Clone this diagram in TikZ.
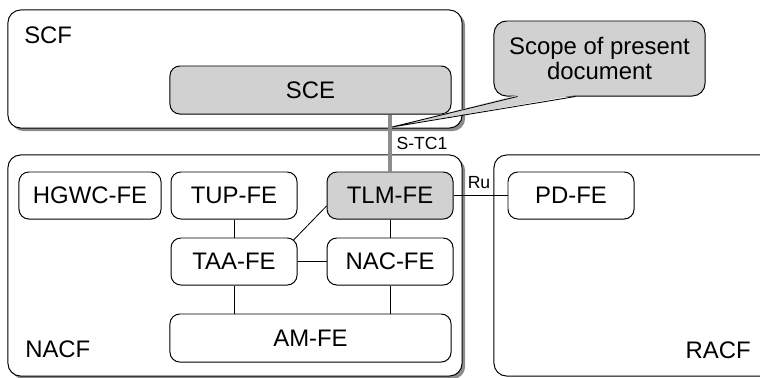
\documentclass[tikz,border=0pt]{standalone}
\usepackage{fontspec}
\setmainfont{Liberation Sans}
\usetikzlibrary{positioning,shadows,calc}

\tikzset{
  area/.style={draw, rounded corners=9pt, fill=white, inner sep=0pt, line width=0.7pt},
  areashadow/.style={area, drop shadow={shadow xshift=2.2pt, shadow yshift=-2.2pt, fill=black!45, opacity=1}},
  fe/.style={draw, rounded corners=7pt, fill=white, minimum width=3.15cm, minimum height=1.175cm,
    font=\fontsize{17}{17.5}\selectfont, line width=0.7pt, inner sep=0pt},
  inscope/.style={fe, fill=black!18},
  link/.style={line width=0.6pt},
  tclink/.style={line width=2.8pt, draw=black!45},
  biglabel/.style={font=\fontsize{17}{17.5}\selectfont, inner sep=0pt},
  smalllabel/.style={font=\fontsize{12.5}{14}\selectfont, inner sep=0pt},
}

\begin{document}
\begin{tikzpicture}[x=0.025cm, y=-0.025cm]
  \useasboundingbox (0,0) rectangle (760,377);
  % functional areas
  \node[areashadow, minimum width=11.35cm, minimum height=2.95cm] (SCF) at (235,69) {};
  \node[areashadow, minimum width=11.35cm, minimum height=5.525cm] (NACF) at (235,265.5) {};
  \node[area, minimum width=7.4cm, minimum height=5.525cm] (RACF) at (642,265.5) {};
  \node[biglabel, anchor=west] (SCFname) at (24,35) {SCF};
  \node[biglabel, anchor=west] (NACFname) at (25,349) {NACF};
  \node[biglabel, anchor=east] (RACFname) at (751,350) {RACF};

  % functional entities
  \node[inscope, minimum width=7.025cm, minimum height=1.2cm] (SCE) at (310.5,90) {SCE};
  \node[fe, minimum width=3.55cm] (HGWC) at (90,195.5) {HGWC-FE};
  \node[fe, right=0.225cm of HGWC] (TUP) {TUP-FE};
  \node[inscope, right=0.725cm of TUP] (TLM) {TLM-FE};
  \node[fe, below=0.45cm of TUP] (TAA) {TAA-FE};
  \node[fe, below=0.45cm of TLM] (NAC) {NAC-FE};
  \node[fe, minimum width=7.025cm, minimum height=1.2cm] (AM) at (310.5,338) {AM-FE};
  \node[fe] (PD) at (571,195.5) {PD-FE};

  % reference points
  \draw[link] (TUP) -- (TAA);
  \draw[link] (TAA) -- (NAC);
  \draw[link] (TLM) -- (NAC);
  \draw[link] ($(TAA.north east)+(-4,2.5)$) -- ($(TLM.west)+(0,10.5)$);
  \draw[link] (TAA.south) -- (TAA.south |- AM.north);
  \draw[link] (NAC.south) -- (NAC.south |- AM.north);
  \draw[link] (TLM) -- (PD);
  \draw[tclink] (TLM.north) -- (TLM.north |- SCE.south);
  \node[smalllabel] (STC) at (422,143) {S-TC1};
  \node[smalllabel] (Ru) at (479,183) {Ru};

  % scope callout
  \node[inscope, minimum width=5.275cm, minimum height=1.875cm, rounded corners=9pt, align=center]
    (SCOPE) at (599.5,58.5) {Scope of present\\document};
  \coordinate (tip) at (392,127);
  \fill[black!18] ($(SCOPE.south)+(-82,-1.5)$) -- (tip) -- ($(SCOPE.south)+(-24,-1.5)$) -- cycle;
  \draw[link] ($(SCOPE.south)+(-82,0)$) -- (tip) -- ($(SCOPE.south)+(-24,0)$);
\end{tikzpicture}
\end{document}
